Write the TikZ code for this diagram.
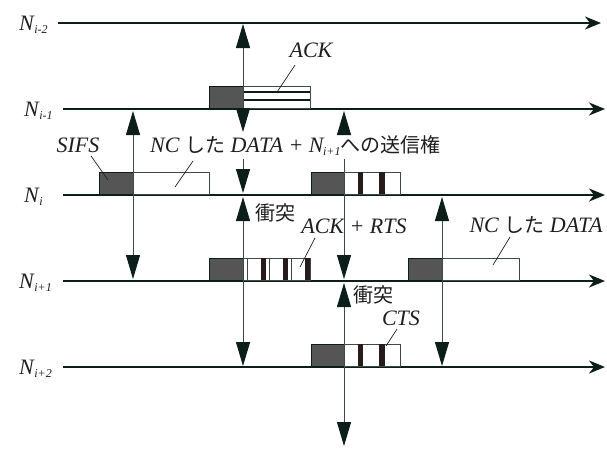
\documentclass[tikz,border=0pt]{standalone}
\usepackage{fontspec}
\setmainfont{Liberation Serif}
\newfontfamily\jp{Noto Sans CJK JP}
\usetikzlibrary{arrows.meta}
\definecolor{ink}{RGB}{12,30,26}
\definecolor{vline}{RGB}{60,75,70}
\definecolor{boxgray}{RGB}{85,85,85}
\definecolor{barc}{RGB}{38,28,28}
\definecolor{txt}{RGB}{30,30,30}
\newcommand\Nsub[1]{\textit{N}\kern-0.5pt\raisebox{-3pt}{\fontsize{12}{12}\selectfont\textit{#1}}}
\newcommand\jpt[1]{{\fontsize{20}{22}\selectfont\jp #1}}
\begin{document}
\begin{tikzpicture}[x=1pt,y=-1pt,
  timeline/.style={ink,line width=2.2pt,-{Stealth[length=16pt,width=13pt,inset=5pt]}},
  vert/.style={vline,line width=1pt,
    {Triangle[length=24pt,width=14pt,fill=ink,color=ink]}-{Triangle[length=24pt,width=14pt,fill=ink,color=ink]}},
  darkbox/.style={fill=boxgray,draw=ink,line width=1pt},
  whitebox/.style={fill=white,draw=vline,line width=0.8pt},
  thinbar/.style={draw=vline,line width=0.8pt},
  thickbar/.style={fill=barc,draw=none},
  hstripe/.style={ink,line width=1.8pt},
  lbl/.style={font=\fontsize{22}{24}\selectfont\itshape,text=txt,inner sep=1pt},
  lblw/.style={lbl,fill=white},
  jplbl/.style={font=\fontsize{20}{22}\selectfont\jp,text=txt,inner sep=1pt},
  nlbl/.style={font=\fontsize{22}{24}\selectfont,text=txt,anchor=base west,inner sep=0pt},
  leader/.style={txt,line width=0.7pt}]
\useasboundingbox (0,0) rectangle (607,448);

% node labels
\node[nlbl] (n2) at (19,30) {\Nsub{i-2}};
\node[nlbl] (n1) at (24,116) {\Nsub{i-1}};
\node[nlbl] (n0) at (24,202) {\textit{N}\kern-0.5pt\raisebox{-3pt}{\fontsize{12}{12}\selectfont\textit{i}}};
\node[nlbl] (p1) at (19,288) {\Nsub{i+1}};
\node[nlbl] (p2) at (19,374) {\Nsub{i+2}};

% timelines
\coordinate (t2s) at (58,23);  \coordinate (t2e) at (601,23);
\coordinate (t1s) at (63,109); \coordinate (t1e) at (605,109);
\coordinate (t0s) at (63,195); \coordinate (t0e) at (605,195);
\coordinate (u1s) at (63,281); \coordinate (u1e) at (605,281);
\coordinate (u2s) at (63,367); \coordinate (u2e) at (605,367);
\foreach \a/\b in {t2s/t2e,t1s/t1e,t0s/t0e,u1s/u1e,u2s/u2e}
  \draw[timeline] (\a) -- (\b);

% N_{i-1}: ACK box
\draw[darkbox] (209,86) rectangle (243,108);
\draw[whitebox] (243,86) rectangle (310,108);
\draw[hstripe] (243,92) -- (310,92);
\draw[hstripe] (243,100) -- (310,100);

% N_i: SIFS + data box
\draw[darkbox] (99,172) rectangle (133,194);
\draw[whitebox] (133,172) rectangle (209,194);
% N_i second box
\draw[darkbox] (311,172) rectangle (344,194);
\draw[whitebox] (344,172) rectangle (400,194);
\fill[thickbar] (358,172) rectangle (363,194);
\fill[thickbar] (379,172) rectangle (385,194);

% N_{i+1}: ACK+RTS box
\draw[darkbox] (209,258) rectangle (243,280);
\draw[whitebox] (243,258) rectangle (310,280);
\foreach \x in {247,269,291} \draw[thinbar] (\x,258) -- (\x,280);
\foreach \x in {261,283,305} \fill[thickbar] (\x,258) rectangle (\x+4.5,280);
% N_{i+1}: NC DATA box
\draw[darkbox] (408,258) rectangle (442,280);
\draw[whitebox] (442,258) rectangle (519,280);

% N_{i+2}: CTS box
\draw[darkbox] (311,344) rectangle (344,366);
\draw[whitebox] (344,344) rectangle (400,366);
\fill[thickbar] (358,344) rectangle (363,366);
\fill[thickbar] (379,344) rectangle (385,366);

% labels
\node[lbl] (ack) at (311,50) {ACK};
\node[lbl] (sifs) at (78,145) {SIFS};
\node[lblw,anchor=west] (big) at (149,146) {NC \jpt{した} DATA + \Nsub{i+1}\jpt{への送信権}};
\node[lblw] (ackrts) at (354,226) {ACK + RTS};
\node[lbl] (ncdata) at (536,225) {NC \jpt{した} DATA};
\node[lbl] (cts) at (401,318) {CTS};
\node[jplbl] (col1) at (275,213) {衝突};
\node[jplbl] (col2) at (373,295) {衝突};

% leader lines
\coordinate (ackp) at (277,92);
\coordinate (sifsp) at (108,180);
\coordinate (bigp) at (175,187);
\coordinate (arp) at (300,267);
\coordinate (ncp) at (493,265);
\coordinate (ctsp) at (386,346);
\draw[leader] (295,65) -- (ackp);
\draw[leader] (91,156) -- (sifsp);
\draw[leader] (193,161) -- (bigp);
\draw[leader] (315,238) -- (arp);
\draw[leader] (510,237) -- (ncp);
\draw[leader] (397,329) -- (ctsp);

% vertical arrows
\coordinate (a1t) at (243,24);  \coordinate (a1b) at (243,193);
\coordinate (a2t) at (243,197); \coordinate (a2b) at (243,366);
\coordinate (a3t) at (133,111); \coordinate (a3b) at (133,279);
\coordinate (a4t) at (344,111); \coordinate (a4b) at (344,279);
\coordinate (a5t) at (344,283); \coordinate (a5b) at (344,446);
\coordinate (a6t) at (442,197); \coordinate (a6b) at (442,366);
\draw[vert] (a1t) -- (243,132);
\draw[vline,line width=1pt,-{Triangle[length=24pt,width=14pt,fill=ink,color=ink]}] (243,159) -- (a1b);
\draw[vert] (a2t) -- (a2b);
\draw[vert] (a3t) -- (a3b);
\draw[vline,line width=1pt,{Triangle[length=24pt,width=14pt,fill=ink,color=ink]}-] (a4t) -- (344,132);
\draw[vline,line width=1pt,-{Triangle[length=24pt,width=14pt,fill=ink,color=ink]}] (344,159) -- (a4b);
\draw[vert] (a5t) -- (a5b);
\draw[vert] (a6t) -- (a6b);
\end{tikzpicture}
\end{document}
